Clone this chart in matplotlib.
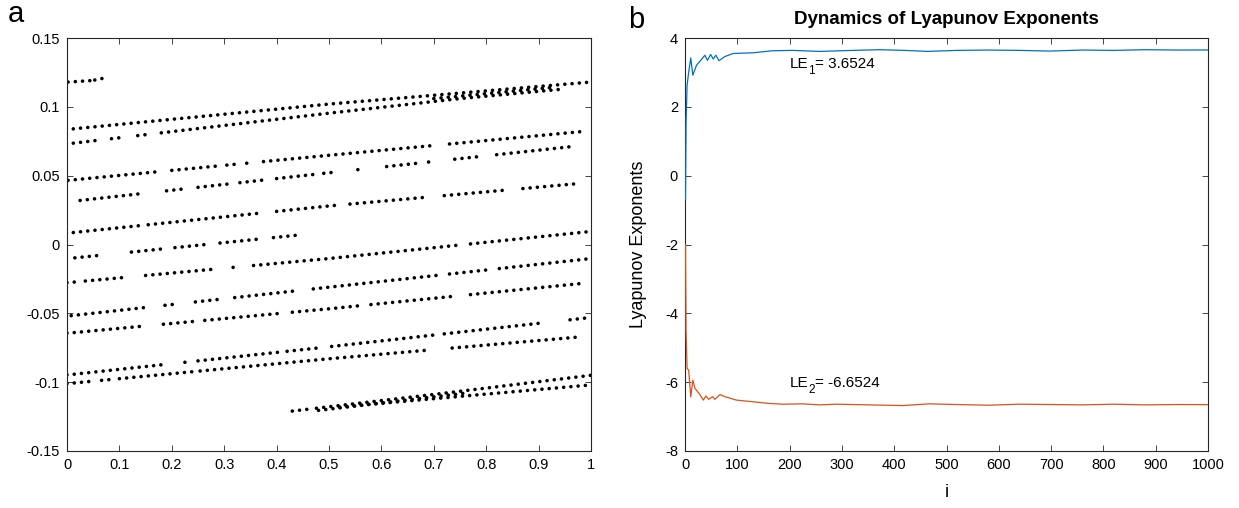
import numpy as np
import matplotlib
matplotlib.use("Agg")
import matplotlib.pyplot as plt

plt.rcParams['font.family'] = ['Liberation Sans', 'DejaVu Sans']

# ---------------- panel a: stripes of the scatter (knots and dotted runs) ----------------
# each stripe: knot x, knot y, runs = x-intervals where dots exist
T1_x, T1_y, T1_runs = [0.002, 0.044], [0.118, 0.119], [(0.002, 0.044)]
T2_x, T2_y, T2_runs = [0.053, 0.072], [0.1195, 0.121], [(0.053, 0.072)]

A_x, A_y = [0.012, 0.50, 1.0], [0.084, 0.102, 0.118]
A_runs = [(0.012, 1.0)]
B_x, B_y = [0.012, 0.50, 0.75, 0.95], [0.0736, 0.0954, 0.106, 0.113]
B_runs = [(0.012, 0.065), (0.085, 0.11), (0.135, 0.16), (0.18, 0.95)]
AB_x, AB_y = [0.70, 0.93], [0.106, 0.1142]
AB_runs = [(0.70, 0.93)]
C_x, C_y = [0.002, 0.50, 0.99], [0.0466, 0.0648, 0.0823]
C_runs = [(0.002, 0.171), (0.20, 0.29), (0.305, 0.32), (0.343, 0.356), (0.375, 0.70), (0.73, 0.99)]
D_x, D_y = [0.025, 0.49, 0.97], [0.032, 0.0517, 0.0714]
D_runs = [(0.025, 0.143), (0.19, 0.22), (0.25, 0.31), (0.33, 0.38), (0.40, 0.47), (0.49, 0.51),
          (0.555, 0.56), (0.61, 0.67), (0.69, 0.695), (0.74, 0.79), (0.82, 0.97)]
E_x, E_y = [0.012, 0.50, 0.98], [0.0087, 0.028, 0.0444]
E_runs = [(0.012, 0.146), (0.155, 0.368), (0.40, 0.52), (0.54, 0.683), (0.72, 0.84), (0.87, 0.98)]
F_x, F_y = [0.015, 0.445], [-0.0097, 0.007]
F_runs = [(0.015, 0.066), (0.123, 0.19), (0.206, 0.273), (0.292, 0.362), (0.394, 0.445)]
G_x, G_y = [0.002, 0.50, 1.0], [-0.0277, -0.0102, 0.0095]
G_runs = [(0.0, 0.02), (0.035, 0.107), (0.15, 0.286), (0.317, 0.33), (0.356, 0.75), (0.77, 1.0)]
H_x, H_y = [0.008, 0.50, 1.0], [-0.0517, -0.031, -0.0102]
H_runs = [(0.008, 0.146), (0.187, 0.21), (0.245, 0.30), (0.32, 0.44), (0.47, 0.71), (0.73, 0.80), (0.825, 1.0)]
I_x, I_y = [0.002, 0.50, 0.99], [-0.0644, -0.0467, -0.028]
I_runs = [(0.0, 0.14), (0.184, 0.241), (0.263, 0.41), (0.43, 0.56), (0.58, 0.74), (0.77, 0.99)]
J_x, J_y = [0.002, 0.483, 1.0], [-0.0947, -0.075, -0.053]
J_runs = [(0.0, 0.19), (0.225, 0.23), (0.25, 0.41), (0.42, 0.48), (0.505, 0.70), (0.72, 0.91), (0.96, 1.0)]
K_x, K_y = [0.002, 0.50, 0.983], [-0.101, -0.083, -0.067]
K_runs = [(0.0, 0.05), (0.066, 0.09), (0.10, 0.24), (0.254, 0.69), (0.735, 0.983)]
L1_x, L1_y = [0.43, 0.72, 1.0], [-0.121, -0.108, -0.095]
L1_runs = [(0.43, 0.46), (0.476, 1.0)]
L2_x, L2_y = [0.52, 1.0], [-0.118, -0.102]
L2_runs = [(0.52, 1.0)]
LM_x, LM_y = [0.48, 0.76], [-0.1205, -0.108]
LM_runs = [(0.48, 0.76)]

stripes = [(T1_x, T1_y, T1_runs), (T2_x, T2_y, T2_runs), (A_x, A_y, A_runs), (B_x, B_y, B_runs),
           (AB_x, AB_y, AB_runs),
           (C_x, C_y, C_runs), (D_x, D_y, D_runs), (E_x, E_y, E_runs), (F_x, F_y, F_runs),
           (G_x, G_y, G_runs), (H_x, H_y, H_runs), (I_x, I_y, I_runs), (J_x, J_y, J_runs),
           (K_x, K_y, K_runs), (L1_x, L1_y, L1_runs), (L2_x, L2_y, L2_runs), (LM_x, LM_y, LM_runs)]

# ---------------- panel b: Lyapunov exponent curves ----------------
le1_i = [1, 2, 4, 7, 11, 15, 22, 30, 38, 43, 49, 54, 59, 65, 76, 92, 130, 168, 206, 257, 321,
         372, 420, 464, 520, 580, 640, 697, 760, 820, 880, 940, 1000]
le1_v = [-0.7, 1.5, 2.63, 3.0, 3.42, 2.92, 3.21, 3.35, 3.5, 3.35, 3.52, 3.39, 3.5, 3.34, 3.46,
         3.55, 3.57, 3.63, 3.64, 3.61, 3.64, 3.66, 3.64, 3.61, 3.64, 3.65, 3.64, 3.62, 3.65,
         3.64, 3.66, 3.65, 3.6524]
le2_i = [1, 2, 4, 7, 11, 15, 19, 29, 35, 40, 45, 53, 57, 67, 76, 98, 130, 162, 187, 225, 257,
         289, 352, 416, 467, 520, 580, 640, 700, 760, 820, 880, 940, 1000]
le2_v = [-2.0, -4.5, -5.6, -5.65, -6.43, -5.94, -6.18, -6.37, -6.52, -6.40, -6.5, -6.42, -6.5,
         -6.36, -6.42, -6.52, -6.57, -6.62, -6.64, -6.63, -6.66, -6.64, -6.66, -6.68, -6.63,
         -6.65, -6.67, -6.64, -6.65, -6.66, -6.64, -6.66, -6.65, -6.6524]
le_labels = [('1', '= 3.6524'), ('2', '= -6.6524')]
le_label_pos = [(200, 3.12), (200, -6.15)]

a_xticks = [0, 0.1, 0.2, 0.3, 0.4, 0.5, 0.6, 0.7, 0.8, 0.9, 1]
a_xlabels = ['0', '0.1', '0.2', '0.3', '0.4', '0.5', '0.6', '0.7', '0.8', '0.9', '1']
a_yticks = [-0.15, -0.1, -0.05, 0, 0.05, 0.1, 0.15]
a_ylabels = ['-0.15', '-0.1', '-0.05', '0', '0.05', '0.1', '0.15']
b_xticks = list(range(0, 1001, 100))
b_yticks = [-8, -6, -4, -2, 0, 2, 4]
b_ylabels = ['-8', '-6', '-4', '-2', '0', '2', '4']

W, H = 1239, 508
fig = plt.figure(figsize=(W / 100, H / 100), dpi=100)
axa = fig.add_axes([67 / W, 1 - 451 / H, (591 - 67) / W, (451 - 38) / H])
axb = fig.add_axes([685 / W, 1 - 451 / H, (1208 - 685) / W, (451 - 38) / H])

spine_col = '#262626'
for ax in (axa, axb):
    for s in ax.spines.values():
        s.set_color(spine_col)
        s.set_linewidth(0.8)
    ax.tick_params(direction='in', length=4, width=0.6, color=spine_col, labelsize=10.5,
                   top=True, right=True, labelcolor='black', pad=5)

dot_lw = 2.6
for kx, ky, runs in stripes:
    for a, b in runs:
        xs = [a] + [k for k in kx if a < k < b] + [b]
        ys = np.interp(xs, kx, ky)
        axa.plot(xs, ys, color='black', lw=dot_lw, linestyle=(0, (0.01, 2.0)),
                 dash_capstyle='round', solid_capstyle='round')

axa.set_xlim(0, 1)
axa.set_ylim(-0.15, 0.15)
axa.set_xticks(a_xticks, a_xlabels)
axa.set_yticks(a_yticks, a_ylabels)

axb.plot(le1_i, le1_v, color='#0072BD', lw=0.9, zorder=3)
axb.plot(le2_i, le2_v, color='#D95319', lw=0.9, zorder=3)
axb.set_xlim(0, 1000)
axb.set_ylim(-8, 4)
axb.set_xticks(b_xticks, [str(t) for t in b_xticks])
axb.set_yticks(b_yticks, b_ylabels)
axb.set_xlabel('i', fontsize=13, labelpad=9)
axb.set_ylabel('Lyapunov Exponents', fontsize=13, labelpad=13)
axb.set_title('Dynamics of Lyapunov Exponents', fontsize=13.5, fontweight='bold', pad=10)

fs_main, fs_sub = 11, 8.5
le_w = (0.556 + 0.667) * fs_main  # width of "LE" in points (Arial metrics)
sub_w = 0.556 * fs_sub
for (sub, rest), (xi, yv) in zip(le_labels, le_label_pos):
    axb.annotate('LE', (xi, yv), xytext=(0, 0), textcoords='offset points',
                 fontsize=fs_main, va='baseline', ha='left')
    axb.annotate(sub, (xi, yv), xytext=(le_w, -3.8), textcoords='offset points',
                 fontsize=fs_sub, va='baseline', ha='left')
    axb.annotate(rest, (xi, yv), xytext=(le_w + sub_w, 0), textcoords='offset points',
                 fontsize=fs_main, va='baseline', ha='left')

fig.text(8 / W, 1 - 22 / H, 'a', fontsize=21, va='baseline', ha='left')
fig.text(628 / W, 1 - 28 / H, 'b', fontsize=21, va='baseline', ha='left')

fig.savefig('out.png', dpi=100)
